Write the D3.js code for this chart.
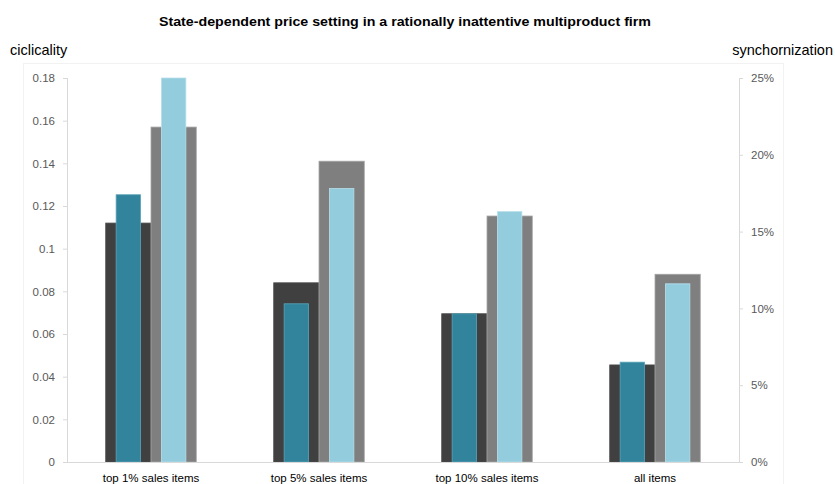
<!DOCTYPE html>
<html>
<head>
<meta charset="utf-8">
<script src="https://cdn.jsdelivr.net/npm/d3@7"></script>
<style>
  html, body { margin: 0; padding: 0; background: #ffffff; }
  svg { display: block; }
  text { font-family: "Liberation Sans", Arial, sans-serif; }
</style>
</head>
<body>
<svg id="chart" width="835" height="484"></svg>
<script>
// ---- data ----
const categories = ["top 1% sales items", "top 5% sales items", "top 10% sales items", "all items"];
// primary (left axis, "ciclicality") – wide bars
const cyclicalityDark = [0.112, 0.084, 0.0695, 0.0455];
const cyclicalityGray = [0.157, 0.141, 0.1153, 0.088];
// secondary (right axis, "synchornization") – narrow bars
const synchTeal = [0.174, 0.103, 0.0965, 0.065];
const synchLight = [0.250, 0.178, 0.163, 0.116];
const leftTicks = [0, 0.02, 0.04, 0.06, 0.08, 0.1, 0.12, 0.14, 0.16, 0.18];
const rightTicks = [0, 0.05, 0.10, 0.15, 0.20, 0.25];
const titleText = "State-dependent price setting in a rationally inattentive multiproduct firm";
const leftTitle = "ciclicality";
const rightTitle = "synchornization";

// ---- layout ----
const svg = d3.select("#chart");
const plotL = 67, plotR = 739, plotT = 78, plotB = 462;

const x0 = d3.scaleBand().domain(categories).range([plotL, plotR]).padding(0);
const x1 = d3.scaleBand().domain([0, 1]).range([0, x0.bandwidth()]).paddingInner(0).paddingOuter(0.855);
const yL = d3.scaleLinear().domain([0, 0.18]).range([plotB, plotT]);
const yR = d3.scaleLinear().domain([0, 0.25]).range([plotB, plotT]);

// faint plot-area frame
svg.append("rect").attr("x", 23.5).attr("y", 63.5).attr("width", 760).attr("height", 430)
  .attr("fill", "none").attr("stroke", "#f2f2f2");

// title
svg.append("text").attr("x", 405).attr("y", 26).attr("text-anchor", "middle")
  .attr("font-size", 12.5).attr("font-weight", "bold").attr("fill", "#000")
  .attr("textLength", 492).attr("lengthAdjust", "spacingAndGlyphs")
  .text(titleText);

svg.append("text").attr("x", 10).attr("y", 55).attr("font-size", 14.5).attr("fill", "#000").text(leftTitle);
svg.append("text").attr("x", 833).attr("y", 55).attr("text-anchor", "end").attr("font-size", 14.5).attr("fill", "#000").text(rightTitle);

// axes
const axisColor = "#d9d9d9";
const fmtL = d => d === 0 ? "0" : String(+d.toFixed(2));
const gL = svg.append("g").attr("transform", `translate(${plotL},0)`)
  .call(d3.axisLeft(yL).tickValues(leftTicks).tickFormat(fmtL).tickSize(4).tickPadding(8));
const gR = svg.append("g").attr("transform", `translate(${plotR},0)`)
  .call(d3.axisRight(yR).tickValues(rightTicks).tickFormat(d3.format(".0%")).tickSize(4).tickPadding(8));
[gL, gR].forEach(g => {
  g.select(".domain").attr("stroke", axisColor).attr("d", `M0.5,${plotT}V${plotB}`);
  g.selectAll(".tick line").attr("stroke", axisColor);
  g.selectAll(".tick text").attr("fill", "#595959").attr("font-size", 11.5)
    .attr("font-family", "\"Liberation Sans\", Arial, sans-serif");
});

// bars
const wide = x1.bandwidth();
const narrowW = wide * 0.54;
function drawBars(values, slot, yScale, w, fill, stroke) {
  svg.append("g").selectAll("rect").data(values).join("rect")
    .attr("x", (d, i) => x0(categories[i]) + x1(slot) + (wide - w) / 2)
    .attr("y", d => yScale(d))
    .attr("width", w)
    .attr("height", d => plotB - yScale(d))
    .attr("fill", fill)
    .attr("stroke", stroke).attr("stroke-width", 0.8);
}
drawBars(cyclicalityDark, 0, yL, wide, "#404040", "#4d4d4d");
drawBars(cyclicalityGray, 1, yL, wide, "#7f7f7f", "#a6a6a6");
drawBars(synchTeal, 0, yR, narrowW, "#31849b", "#5aa4b8");
drawBars(synchLight, 1, yR, narrowW, "#93cddd", "#b7dfea");

// category axis
svg.append("line").attr("x1", plotL - 4).attr("x2", plotR + 4).attr("y1", plotB + 0.5).attr("y2", plotB + 0.5)
  .attr("stroke", axisColor);
svg.append("g").selectAll("text").data(categories).join("text")
  .attr("x", d => x0(d) + x0.bandwidth() / 2)
  .attr("y", 482)
  .attr("text-anchor", "middle")
  .attr("font-size", 11.5).attr("fill", "#000")
  .text(d => d);
</script>
</body>
</html>
